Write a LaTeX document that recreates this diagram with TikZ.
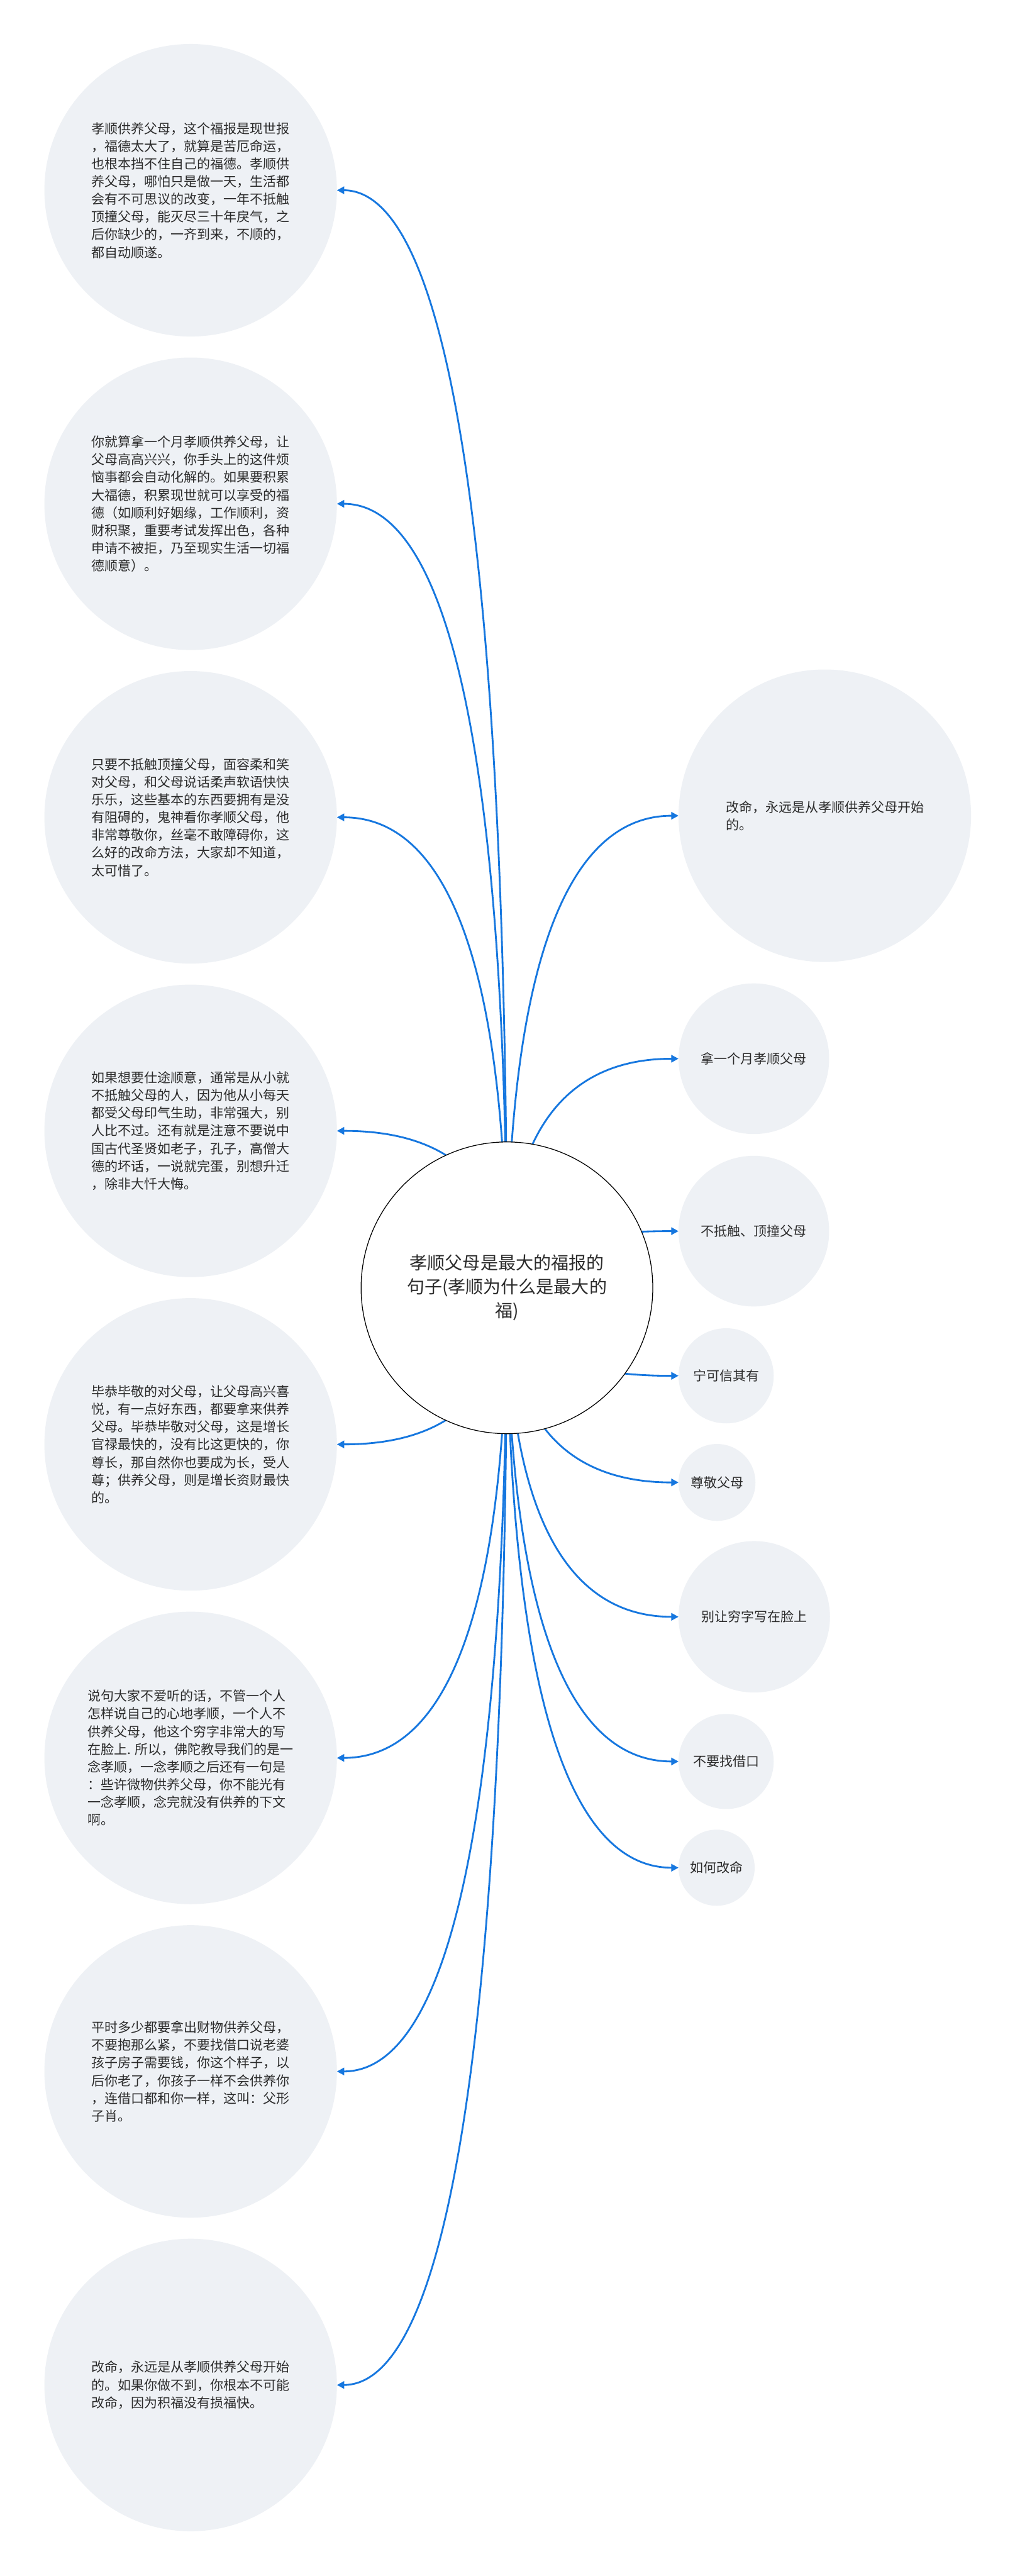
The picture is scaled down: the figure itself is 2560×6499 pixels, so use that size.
\documentclass[tikz,border=0pt]{standalone}
\usepackage{fontspec}
\setmainfont{Noto Sans CJK SC}
\usetikzlibrary{calc,arrows.meta,backgrounds}
\definecolor{bub}{HTML}{EEF1F5}
\definecolor{lnk}{HTML}{1677DF}
\definecolor{txt}{HTML}{2B2B2B}
\tikzset{
 big/.style={circle,fill=bub,inner sep=0pt,outer sep=0pt,minimum size=221.4pt,align=left,text=txt,font=\fontsize{10}{13.4}\selectfont},
 small/.style={circle,fill=bub,inner sep=0pt,outer sep=0pt,align=center,text=txt,font=\fontsize{10}{13.4}\selectfont},
 root/.style={circle,draw=black,line width=0.6pt,fill=white,inner sep=0pt,outer sep=0pt,minimum size=220.8pt,align=center,text=txt,font=\fontsize{13.35}{18}\selectfont},
 conn/.style={draw=lnk,line width=1.35pt,-{Triangle[length=5.5pt,width=5.5pt]}},
}
\newcommand\linkto[1]{%
  \coordinate (qq) at (ctr.center|-#1);
  \draw[conn] (ctr.center) .. controls ($(ctr.center)!0.6667!(qq)$) and ($(#1)!0.6667!(qq)$) .. (#1);}
\begin{document}
\begin{tikzpicture}[x=0.3pt,y=-0.3pt]
\useasboundingbox (0,0) rectangle (2560,6499);
\node[root] (ctr) at (1279,3249) {孝顺父母是最大的福报的\\句子(孝顺为什么是最大的\\福)};

\node[big] (L1) at (481,480) {孝顺供养父母，这个福报是现世报\\，福德太大了，就算是苦厄命运，\\也根本挡不住自己的福德。孝顺供\\养父母，哪怕只是做一天，生活都\\会有不可思议的改变，一年不抵触\\顶撞父母，能灭尽三十年戾气，之\\后你缺少的，一齐到来，不顺的，\\都自动顺遂。};
\node[big] (L2) at (481,1271) {你就算拿一个月孝顺供养父母，让\\父母高高兴兴，你手头上的这件烦\\恼事都会自动化解的。如果要积累\\大福德，积累现世就可以享受的福\\德（如顺利好姻缘，工作顺利，资\\财积聚，重要考试发挥出色，各种\\申请不被拒，乃至现实生活一切福\\德顺意）。};
\node[big] (L3) at (481,2062) {只要不抵触顶撞父母，面容柔和笑\\对父母，和父母说话柔声软语快快\\乐乐，这些基本的东西要拥有是没\\有阻碍的，鬼神看你孝顺父母，他\\非常尊敬你，丝毫不敢障碍你，这\\么好的改命方法，大家却不知道，\\太可惜了。};
\node[big] (L4) at (481,2853) {如果想要仕途顺意，通常是从小就\\不抵触父母的人，因为他从小每天\\都受父母印气生助，非常强大，别\\人比不过。还有就是注意不要说中\\国古代圣贤如老子，孔子，高僧大\\德的坏话，一说就完蛋，别想升迁\\，除非大忏大悔。};
\node[big] (L5) at (481,3644) {毕恭毕敬的对父母，让父母高兴喜\\悦，有一点好东西，都要拿来供养\\父母。毕恭毕敬对父母，这是增长\\官禄最快的，没有比这更快的，你\\尊长，那自然你也要成为长，受人\\尊；供养父母，则是增长资财最快\\的。};
\node[big] (L6) at (481,4435) {说句大家不爱听的话，不管一个人\\怎样说自己的心地孝顺，一个人不\\供养父母，他这个穷字非常大的写\\在脸上. 所以，佛陀教导我们的是一\\念孝顺，一念孝顺之后还有一句是\\：些许微物供养父母，你不能光有\\一念孝顺，念完就没有供养的下文\\啊。};
\node[big] (L7) at (481,5226) {平时多少都要拿出财物供养父母，\\不要抱那么紧，不要找借口说老婆\\孩子房子需要钱，你这个样子，以\\后你老了，你孩子一样不会供养你\\，连借口都和你一样，这叫：父形\\子肖。};
\node[big] (L8) at (481,6017) {改命，永远是从孝顺供养父母开始\\的。如果你做不到，你根本不可能\\改命，因为积福没有损福快。};

\node[big,anchor=west] (R1) at (1712,2058) {改命，永远是从孝顺供养父母开始\\的。};
\node[small,minimum size=114pt,anchor=west] (R2) at (1712,2671) {拿一个月孝顺父母};
\node[small,minimum size=114pt,anchor=west] (R3) at (1712,3106) {不抵触、顶撞父母};
\node[small,minimum size=72pt,anchor=west] (R4) at (1712,3471) {宁可信其有};
\node[small,minimum size=58.2pt,anchor=west] (R5) at (1712,3740) {尊敬父母};
\node[small,minimum size=114.6pt,anchor=west] (R6) at (1712,4079) {别让穷字写在脸上};
\node[small,minimum size=72pt,anchor=west] (R7) at (1712,4444) {不要找借口};
\node[small,minimum size=57.6pt,anchor=west] (R8) at (1712,4712) {如何改命};

\begin{scope}[on background layer]
\fill[white] (0,0) rectangle (2560,6499);
\foreach \t in {L1.east,L2.east,L3.east,L4.east,L5.east,L6.east,L7.east,L8.east,R1.west,R2.west,R3.west,R4.west,R5.west,R6.west,R7.west,R8.west}{\linkto{\t}}
\end{scope}
\end{tikzpicture}
\end{document}
